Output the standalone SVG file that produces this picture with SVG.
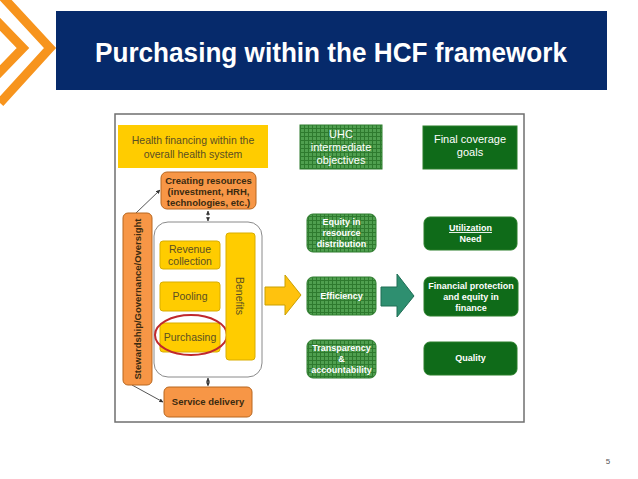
<svg xmlns="http://www.w3.org/2000/svg" width="638" height="479" viewBox="0 0 638 479">
<style>
  .t { font-family: "Liberation Sans", Arial, sans-serif; }
  .org { fill: #f79646; stroke: #b8671f; stroke-width: 1; }
  .ylw { fill: #ffcc00; stroke: #d9ad00; stroke-width: 1; }
  .ot { font-family: "Liberation Sans", Arial, sans-serif; font-size: 9.5px; font-weight: bold; fill: #3a2a10; text-anchor: middle; }
  .yt { font-family: "Liberation Sans", Arial, sans-serif; font-size: 10.5px; fill: #5a4f23; text-anchor: middle; }
  .gck { fill: url(#grid); stroke: #2f7d2f; stroke-width: 1; }
  .gdk { fill: #0f6b19; stroke: #2a7f2a; stroke-width: 1; }
  .wt { font-family: "Liberation Sans", Arial, sans-serif; font-size: 9px; font-weight: bold; fill: #ffffff; text-anchor: middle; }
  .wn { font-family: "Liberation Sans", Arial, sans-serif; font-size: 11px; fill: #ffffff; text-anchor: middle; }
  .ln { stroke: #555555; stroke-width: 1; fill: none; }
  .dl { stroke: #333333; stroke-width: 1; stroke-dasharray: 1.5 1.5; fill: none; }
</style>
<defs>
  <pattern id="grid" width="4" height="4" patternUnits="userSpaceOnUse">
    <rect width="4" height="4" fill="#4f9f4f"/>
    <path d="M0 0.5H4M0.5 0V4" stroke="#2e7a2e" stroke-width="1"/>
  </pattern>
  <marker id="ah" viewBox="0 0 6 6" refX="5.5" refY="3" markerWidth="4" markerHeight="4" orient="auto">
    <path d="M0 0L6 3L0 6Z" fill="#333333"/>
  </marker>
  <marker id="as" viewBox="0 0 6 6" refX="0.5" refY="3" markerWidth="4" markerHeight="4" orient="auto">
    <path d="M6 0L0 3L6 6Z" fill="#333333"/>
  </marker>
</defs>

<rect width="638" height="479" fill="#ffffff"/>

<!-- Header -->
<g id="chevrons" fill="none" stroke="#f7941d" stroke-width="9">
  <polyline points="0,-6 50,48 0,103"/>
  <polyline points="-5,19 23,48 -5,77"/>
</g>
<g id="title">
  <rect x="56" y="11" width="551" height="79" fill="#062a6b"/>
  <text class="t" x="331" y="62" font-size="27" font-weight="bold" fill="#ffffff" text-anchor="middle" textLength="472" lengthAdjust="spacingAndGlyphs">Purchasing within the HCF framework</text>
</g>

<!-- Frame -->
<rect id="frame" x="115" y="114" width="409" height="308" fill="#ffffff" stroke="#6f6f6f" stroke-width="1.5"/>

<!-- Connectors -->
<g id="connectors">
  <line class="ln" x1="136" y1="213" x2="160" y2="190" marker-end="url(#ah)"/>
  <line class="ln" x1="132" y1="385" x2="163" y2="402" marker-end="url(#ah)"/>
  <line class="dl" x1="208" y1="211" x2="208" y2="221" marker-start="url(#as)" marker-end="url(#ah)"/>
  <line class="dl" x1="208" y1="378" x2="208" y2="386" marker-start="url(#as)" marker-end="url(#ah)"/>
  <path id="arrow-yellow" d="M265 287H285V275L301 295L285 315V305H265Z" fill="#ffc20e" stroke="#c9a000" stroke-width="1"/>
  <path id="arrow-teal" d="M381 287H397V274L414 296L397 317V306H381Z" fill="#2e8f70" stroke="#1f6e55" stroke-width="1"/>
</g>

<!-- Left side nodes -->
<g id="hf-header">
  <rect x="118" y="125" width="150" height="43" fill="#ffcc00"/>
  <text class="yt" x="193" y="144" font-size="11">Health financing within the</text>
  <text class="yt" x="193" y="158" font-size="11">overall health system</text>
</g>
<g id="creating-resources">
  <rect class="org" x="161" y="172" width="95" height="37" rx="6"/>
  <text class="ot" x="208.5" y="184">Creating resources</text>
  <text class="ot" x="208.5" y="195">(investment, HRH,</text>
  <text class="ot" x="208.5" y="206">technologies, etc.)</text>
</g>
<g id="stewardship">
  <rect class="org" x="123" y="213" width="29" height="172" rx="5"/>
  <text class="ot" transform="translate(141 299) rotate(-90)" font-size="9">Stewardship/Governance/Oversight</text>
</g>
<g id="functions">
  <rect x="154" y="222" width="108" height="155" rx="14" fill="#ffffff" stroke="#8a8a8a" stroke-width="1"/>
</g>
<g id="revenue-collection">
  <rect class="ylw" x="160" y="241" width="60" height="28" rx="3"/>
  <text class="yt" x="190" y="253">Revenue</text>
  <text class="yt" x="190" y="265">collection</text>
</g>
<g id="pooling">
  <rect class="ylw" x="160" y="282" width="60" height="29" rx="3"/>
  <text class="yt" x="190" y="300">Pooling</text>
</g>
<g id="purchasing">
  <rect class="ylw" x="160" y="323" width="60" height="29" rx="3"/>
  <text class="yt" x="190" y="341">Purchasing</text>
  <ellipse cx="191" cy="335" rx="36" ry="20" fill="none" stroke="#c0282d" stroke-width="2"/>
</g>
<g id="benefits">
  <rect class="ylw" x="226" y="233" width="29" height="127" rx="3"/>
  <text class="yt" transform="translate(236 296) rotate(90)">Benefits</text>
</g>
<g id="service-delivery">
  <rect class="org" x="164" y="387" width="88" height="30" rx="5"/>
  <text class="ot" x="208" y="405">Service delivery</text>
</g>

<!-- Middle column -->
<g id="uhc-objectives">
  <rect class="gck" x="300" y="125" width="82" height="44"/>
  <text class="wn" x="341" y="138">UHC</text>
  <text class="wn" x="341" y="151">intermediate</text>
  <text class="wn" x="341" y="164">objectives</text>
</g>
<g id="equity">
  <rect class="gck" x="307" y="214" width="69" height="38" rx="6"/>
  <text class="wt" x="341.5" y="225">Equity in</text>
  <text class="wt" x="341.5" y="236">resource</text>
  <text class="wt" x="341.5" y="247">distribution</text>
</g>
<g id="efficiency">
  <rect class="gck" x="307" y="277" width="69" height="38" rx="6"/>
  <text class="wt" x="341.5" y="299">Efficiency</text>
</g>
<g id="transparency">
  <rect class="gck" x="307" y="340" width="69" height="38" rx="6"/>
  <text class="wt" x="341.5" y="351">Transparency</text>
  <text class="wt" x="341.5" y="362">&amp;</text>
  <text class="wt" x="341.5" y="373">accountability</text>
</g>

<!-- Right column -->
<g id="final-goals">
  <rect class="gdk" x="423" y="126" width="94" height="43"/>
  <text class="wn" x="470" y="143">Final coverage</text>
  <text class="wn" x="470" y="156">goals</text>
</g>
<g id="utilization">
  <rect class="gdk" x="424" y="217" width="93" height="33" rx="6"/>
  <text class="wt" x="470.5" y="231" text-decoration="underline">Utilization</text>
  <text class="wt" x="470.5" y="242">Need</text>
</g>
<g id="financial-protection">
  <rect class="gdk" x="424" y="277" width="94" height="39" rx="6"/>
  <text class="wt" x="471" y="289">Financial protection</text>
  <text class="wt" x="471" y="300">and equity in</text>
  <text class="wt" x="471" y="311">finance</text>
</g>
<g id="quality">
  <rect class="gdk" x="424" y="342" width="93" height="33" rx="6"/>
  <text class="wt" x="470.5" y="361">Quality</text>
</g>

<text class="t" x="608" y="464" font-size="8" fill="#555555" text-anchor="middle">5</text>
</svg>
